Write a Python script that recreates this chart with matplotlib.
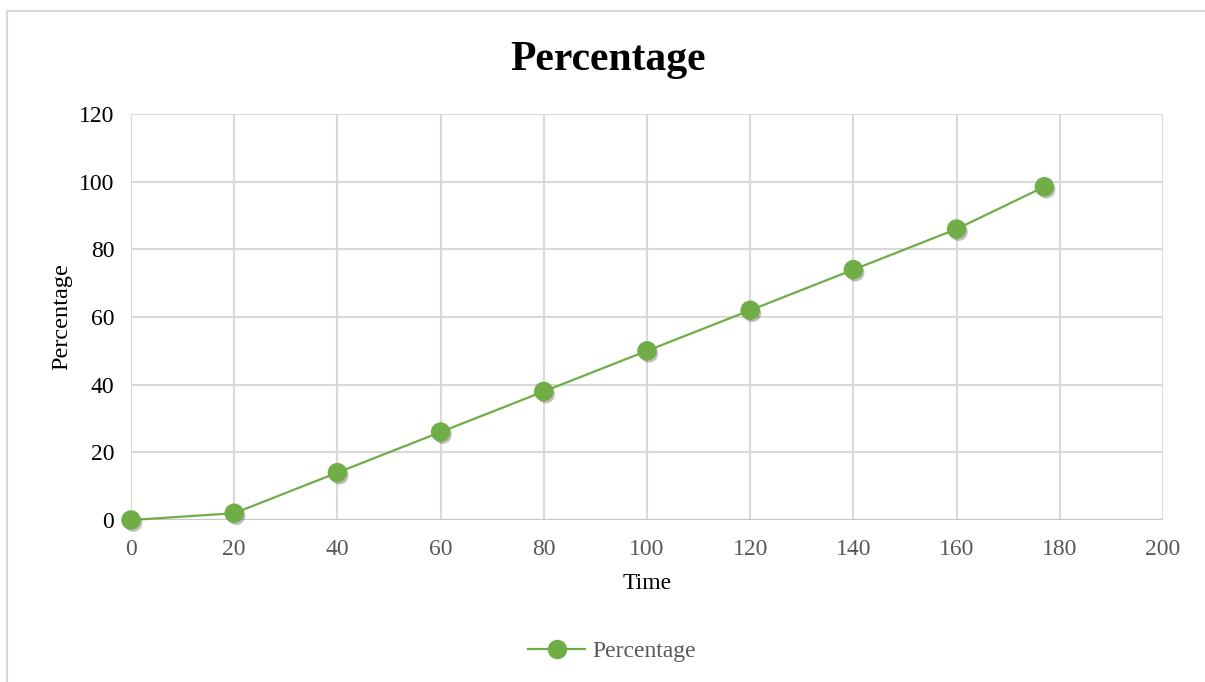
import matplotlib.pyplot as plt
import matplotlib.patheffects as pe
from matplotlib.lines import Line2D

# Datos
time = [0, 20, 40, 60, 80, 100, 120, 140, 160, 177]
percentage = [0, 2, 14, 26, 38, 50, 62, 74, 86, 98.5]
x_ticks = [0, 20, 40, 60, 80, 100, 120, 140, 160, 180, 200]
y_ticks = [0, 20, 40, 60, 80, 100, 120]

plt.rcParams['font.family'] = ['Liberation Serif', 'DejaVu Serif']

fig = plt.figure(figsize=(12.05, 6.82), dpi=100)
ax = fig.add_axes([131 / 1205, 1 - 520 / 682, 1032 / 1205, 406 / 682])

green = '#70AD47'
shadow = [pe.SimplePatchShadow(offset=(1.5, -2), shadow_rgbFace='black', alpha=0.25), pe.Normal()]
ax.plot(time, percentage, color=green, linewidth=1.6, zorder=3, clip_on=False)
ax.plot(time, percentage, linestyle='none', marker='o', markersize=13,
        color=green, markeredgecolor=green, zorder=4, path_effects=shadow, clip_on=False)

ax.set_xlim(0, 200)
ax.set_ylim(0, 120)
ax.set_xticks(x_ticks)
ax.set_yticks(y_ticks)
ax.grid(True, color='#D9D9D9', linewidth=1.5)
ax.set_axisbelow(True)
for s in ax.spines.values():
    s.set_visible(False)
ax.axhline(0, color='#C8C8C8', linewidth=1.6, zorder=1)
ax.tick_params(length=0, labelsize=17)
ax.tick_params(axis='x', colors='#595959', pad=14)
ax.tick_params(axis='y', colors='black', pad=12)

ax.set_xlabel('Time', fontsize=17, labelpad=9)
ax.set_ylabel('Percentage', fontsize=17.5, labelpad=5)
fig.text(0.505, 0.912, 'Percentage', ha='center', va='center',
         fontsize=30, fontweight='bold')

handle = Line2D([], [], color=green, marker='o', markersize=13, linewidth=1.6)
fig.legend([handle], ['Percentage'], loc='center', bbox_to_anchor=(0.508, 0.045),
           frameon=False, fontsize=17, labelcolor='#595959', handlelength=2.4,
           handletextpad=0.3)

# borde del gráfico
fig.add_artist(Line2D([7 / 1205, 7 / 1205], [0, 1 - 11 / 682], color='#D9D9D9', linewidth=1.5))
fig.add_artist(Line2D([7 / 1205, 1], [1 - 11 / 682, 1 - 11 / 682], color='#D9D9D9', linewidth=1.5))

fig.savefig('out.png', dpi=100)
